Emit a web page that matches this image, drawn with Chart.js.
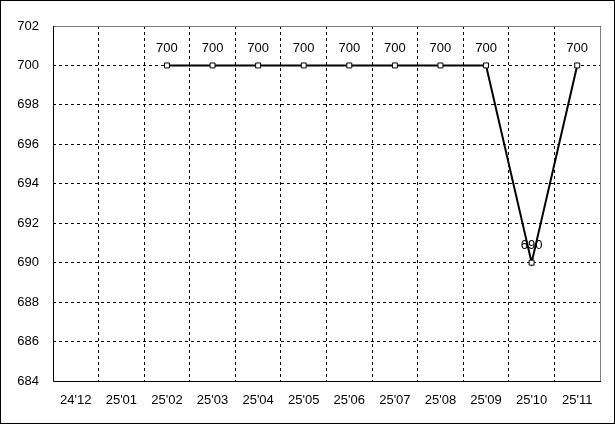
<!DOCTYPE html>
<html>
<head>
<meta charset="utf-8">
<script src="https://cdn.jsdelivr.net/npm/chart.js@4"></script>
<style>
  html, body { margin: 0; padding: 0; background: #fff; }
  #wrap { width: 615px; height: 424px; }
</style>
</head>
<body>
<div id="wrap"><canvas id="chart" width="615" height="424"></canvas></div>
<script>
const months = ["24'12", "25'01", "25'02", "25'03", "25'04", "25'05", "25'06", "25'07", "25'08", "25'09", "25'10", "25'11"];
const values = [null, null, 700, 700, 700, 700, 700, 700, 700, 700, 690, 700];
const yMin = 684;
const yMax = 702;
const yStep = 2;

const FONT = { family: "'Liberation Sans', Arial, sans-serif", size: 13 };

// outer border + plot frame (grey top/right, black left/bottom)
const framePlugin = {
  id: "frame",
  beforeDraw(chart) {
    const c = chart.ctx;
    c.save();
    c.fillStyle = "#fff";
    c.fillRect(0, 0, chart.width, chart.height);
    c.restore();
  },
  afterDraw(chart) {
    const c = chart.ctx;
    const a = chart.chartArea;
    c.save();
    c.strokeStyle = "#000";
    c.lineWidth = 1;
    c.strokeRect(0.5, 0.5, chart.width - 1, chart.height - 1);
    c.restore();
  },
  beforeDatasetsDraw(chart) {
    const c = chart.ctx;
    const a = chart.chartArea;
    c.save();
    c.lineWidth = 1;
    c.strokeStyle = "#808080";
    c.beginPath();
    c.moveTo(a.left, Math.round(a.top) + 0.5);
    c.lineTo(Math.round(a.right) + 0.5, Math.round(a.top) + 0.5);
    c.lineTo(Math.round(a.right) + 0.5, a.bottom);
    c.stroke();
    c.strokeStyle = "#000";
    c.beginPath();
    c.moveTo(Math.round(a.left) + 0.5, Math.round(a.top));
    c.lineTo(Math.round(a.left) + 0.5, Math.round(a.bottom) + 0.5);
    c.lineTo(Math.round(a.right) + 1, Math.round(a.bottom) + 0.5);
    c.stroke();
    c.restore();
  },
};

// value labels above each point
const labelPlugin = {
  id: "valueLabels",
  afterDatasetsDraw(chart) {
    const c = chart.ctx;
    const meta = chart.getDatasetMeta(0);
    c.save();
    c.font = FONT.size + "px " + FONT.family;
    c.fillStyle = "#000";
    c.textAlign = "center";
    c.textBaseline = "middle";
    meta.data.forEach((pt, i) => {
      const v = values[i];
      if (v === null) return;
      c.fillText(String(v), pt.x, pt.y - 17);
    });
    c.restore();
  },
};

const gridDash = [3, 3];

new Chart(document.getElementById("chart"), {
  type: "line",
  data: {
    labels: months,
    datasets: [{
      data: values,
      borderColor: "#000",
      borderWidth: 2,
      pointStyle: "rect",
      pointRadius: 3.5,
      pointBorderWidth: 1,
      pointBackgroundColor: "#fff",
      pointBorderColor: "#000",
      tension: 0,
      spanGaps: false,
    }],
  },
  options: {
    responsive: false,
    animation: false,
    devicePixelRatio: 1,
    layout: { padding: { left: 0, top: 26, right: 15, bottom: 0 } },
    plugins: {
      legend: { display: false },
      tooltip: { enabled: false },
    },
    scales: {
      x: {
        offset: true,
        grid: {
          offset: true,
          color: (ctx) => (ctx.index === 0 ? "rgba(0,0,0,0)" : "#000"),
          drawTicks: false,
        },
        border: { display: false, dash: gridDash },
        ticks: {
          color: "#000",
          font: FONT,
          padding: 12,
          maxRotation: 0,
          autoSkip: false,
        },
        afterFit(scale) { scale.height = 43; },
      },
      y: {
        min: yMin,
        max: yMax,
        grid: {
          color: (ctx) => (ctx.tick.value === yMin || ctx.tick.value === yMax ? "rgba(0,0,0,0)" : "#000"),
          drawTicks: false,
        },
        border: { display: false, dash: gridDash },
        ticks: {
          stepSize: yStep,
          color: "#000",
          font: FONT,
          padding: 14,
        },
        afterFit(scale) { scale.width = 53; },
      },
    },
  },
  plugins: [framePlugin, labelPlugin],
});
</script>
</body>
</html>
